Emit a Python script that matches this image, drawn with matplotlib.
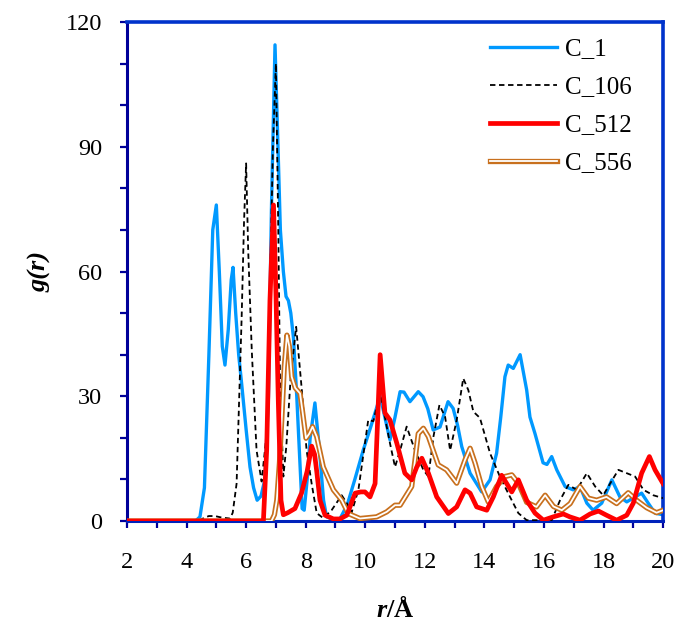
import matplotlib
matplotlib.use("Agg")
import matplotlib.pyplot as plt
from matplotlib.ticker import MultipleLocator
from matplotlib.lines import Line2D

plt.rcParams['font.family'] = ['Liberation Serif', 'DejaVu Serif']
plt.rcParams['mathtext.fontset'] = 'custom'
plt.rcParams['mathtext.rm'] = 'Liberation Serif'
plt.rcParams['mathtext.bfit'] = 'Liberation Serif:italic:bold'

# C_1
r_c1 = [2.0, 4.3, 4.45, 4.6, 4.75, 4.88, 5.0, 5.1, 5.2, 5.29, 5.4, 5.5, 5.56, 5.65, 5.75,
        5.85, 6.0, 6.13, 6.25, 6.37, 6.5, 6.63, 6.75, 6.85, 6.97, 7.05, 7.15, 7.25, 7.34,
        7.42, 7.5, 7.59, 7.7, 7.8, 7.88, 7.95, 8.05, 8.15, 8.31, 8.45, 8.6, 8.7, 8.9, 9.15,
        9.4, 9.65, 9.93, 10.2, 10.5, 10.83, 11.0, 11.17, 11.3, 11.5, 11.78, 11.94, 12.1,
        12.28, 12.51, 12.78, 12.95, 13.1, 13.24, 13.52, 13.91, 14.19, 14.41, 14.55, 14.69,
        14.8, 14.97, 15.2, 15.42, 15.53, 15.7, 15.97, 16.1, 16.26, 16.43, 16.71, 16.98,
        17.21, 17.44, 17.65, 17.94, 18.28, 18.55, 18.78, 19.06, 19.28, 19.5, 19.73, 20.0]
g_c1 = [0, 0, 1, 8, 40, 70, 76, 60, 42, 37.5, 46, 58, 61, 50, 40,
        33, 22, 13, 8, 5, 6, 10, 30, 75, 114.5, 95, 70, 60, 54,
        53, 50, 44, 30, 15, 3, 2.6, 10, 20, 28.4, 18, 5, 1, 0.5, 0.5,
        4, 10, 17, 23, 30, 19.5, 25, 31.1, 31, 28.7, 31.1, 29.9, 27,
        21.9, 22.6, 28.7, 27.1, 23, 17.9, 11.5, 7.0, 9.9, 16.3, 25, 34.7,
        37.5, 36.7, 40, 31.5, 25, 21, 14, 13.6, 15.5, 12.3, 8.3, 7.5,
        8.3, 4.3, 2.6, 4.3, 9.9, 5.8, 4.6, 5.8, 6.7, 4.3, 1.9, 1.5]

# C_106
r_c106 = [2.0, 4.4, 4.6, 4.75, 4.95, 5.2, 5.46, 5.55, 5.68, 5.85, 5.93, 6.0, 6.07, 6.19,
          6.35, 6.52, 6.69, 6.8, 6.9, 7.0, 7.08, 7.14, 7.25, 7.35, 7.5, 7.68, 7.87, 8.03,
          8.2, 8.37, 8.59, 8.87, 9.21, 9.38, 9.54, 9.77, 10.1, 10.27, 10.5, 10.83, 11.0,
          11.17, 11.39, 11.67, 11.95, 12.12, 12.29, 12.49, 12.68, 12.85, 13.07, 13.29,
          13.46, 13.63, 13.85, 14.19, 14.52, 14.86, 15.14, 15.42, 16.26, 16.54, 16.82,
          17.1, 17.44, 17.72, 17.99, 18.22, 18.5, 18.78, 19.06, 19.34, 19.67, 20.0]
g_c106 = [0, 0, 0.8, 1.2, 1.2, 0.8, 0.6, 2, 9, 49, 72, 86, 65, 41,
          17, 9.5, 21, 55, 90, 110, 70, 33, 10.7, 18, 35, 46.7, 31.5, 17,
          9, 1.9, 0.7, 2.6, 6.2, 4.3, 2, 7.5, 24.3, 24, 30.8, 18.7, 13,
          17, 22.7, 17, 12.3, 10.7, 20.3, 27.9, 25.1, 17, 24.3, 34.3,
          31.5, 26.3, 24.8, 16.3, 10.7, 5.8, 1.9, 0.2, 0.2, 5, 8.7,
          7.5, 11.5, 8.3, 6.2, 9, 12.3, 11.5, 10.7, 7.5, 6.2, 5.5]

# C_512
r_c512 = [2.0, 6.58, 6.69, 6.8, 6.92, 7.0, 7.08, 7.17, 7.25, 7.4, 7.64, 7.86, 8.05, 8.2,
          8.3, 8.37, 8.48, 8.65, 8.93, 9.15, 9.38, 9.66, 9.85, 9.99, 10.16, 10.33, 10.42,
          10.5, 10.66, 10.83, 11.06, 11.33, 11.56, 11.73, 11.9, 12.12, 12.4, 12.79, 13.07,
          13.35, 13.52, 13.74, 14.08, 14.3, 14.58, 14.75, 14.92, 15.14, 15.42, 15.7, 15.98,
          16.31, 16.65, 16.87, 17.21, 17.55, 17.83, 18.1, 18.44, 18.78, 19.0, 19.28, 19.54,
          19.73, 20.0]
g_c512 = [0, 0, 17, 53, 76, 55, 29, 5, 1.5, 2, 3, 6.7, 12, 18,
          16, 12, 5, 1.4, 0.5, 0.5, 1.4, 6.7, 7, 7, 5.8, 9, 25,
          40, 26, 24.3, 18.7, 11.5, 9.9, 13, 15.1, 11.5, 5.8, 1.8, 3.4,
          7.5, 6.7, 3.4, 2.6, 5.8, 11, 9, 7, 9.9, 5, 1.9, 0.2,
          1, 1.7, 1, 0.2, 1.7, 2.4, 1.4, 0.2, 1.4, 4.3, 11.5, 15.5,
          12.3, 9]

# C_556
r_c556 = [2.0, 6.85, 6.95, 7.03, 7.12, 7.2, 7.28, 7.37, 7.45, 7.53, 7.65, 7.81, 7.9, 8.01,
          8.12, 8.23, 8.37, 8.59, 8.93, 9.21, 9.43, 9.82, 10.38, 10.72, 11.0, 11.17, 11.56,
          11.78, 11.95, 12.12, 12.45, 12.73, 13.07, 13.35, 13.52, 13.69, 13.91, 14.13, 14.41,
          14.69, 14.92, 15.14, 15.42, 15.75, 16.04, 16.32, 16.6, 16.88, 17.21, 17.49, 17.77,
          18.1, 18.44, 18.83, 19.11, 19.45, 19.78, 20.0]
g_c556 = [0, 0, 1.5, 5, 14, 25, 37, 44.7, 42, 34.7, 32, 30.7, 26, 19.9,
          21, 22.7, 20.3, 13, 7.5, 5, 1.8, 0.6, 1, 2.2, 3.8, 3.8, 8.3,
          21, 22.3, 20.3, 13.5, 12.3, 9.1, 14.7, 17.5, 13.9, 8.3, 4.6, 8.3,
          10.7, 11.1, 9.1, 4.5, 3.4, 6.2, 3.5, 2.6, 4.2, 8.3, 5.5, 5,
          5.8, 4.2, 6.8, 5, 3.2, 2, 2.6]

fig = plt.figure(figsize=(6.78, 6.34), dpi=100)
ax = fig.add_axes([0.1873, 0.1782, 0.7907, 0.7871])

orange = '#c8701e'
ax.plot(r_c1, g_c1, color='#0099ff', lw=2.4, zorder=2)
ax.plot(r_c106, g_c106, color='black', lw=1.3, ls=(0, (3, 2)), zorder=3)
ax.plot(r_c556, g_c556, color=orange, lw=3.8, zorder=4)
ax.plot(r_c556, g_c556, color='white', lw=1.3, zorder=4)
ax.plot(r_c512, g_c512, color='#ff0000', lw=3.4, zorder=5)

h1 = Line2D([], [], color='#0099ff', lw=2.4)
h2 = Line2D([], [], color='black', lw=1.3, ls=(0, (3, 2)))
h3 = Line2D([], [], color='#ff0000', lw=3.4)
h4a = Line2D([], [], color=orange, lw=3.8)
h4b = Line2D([], [], color='white', lw=1.3)
ax.legend([h1, h2, h3, (h4a, h4b)], ['C_1', 'C_106', 'C_512', 'C_556'],
          loc='upper left', bbox_to_anchor=(0.677, 0.968), frameon=False, fontsize=18,
          handlelength=2.7, labelspacing=0.62, handletextpad=0.32,
          borderpad=0, borderaxespad=0)

ax.set_xlim(2, 20)
ax.set_ylim(0, 120)
ax.xaxis.set_major_locator(MultipleLocator(2))
ax.xaxis.set_minor_locator(MultipleLocator(1))
ax.yaxis.set_major_locator(MultipleLocator(30))
ax.yaxis.set_minor_locator(MultipleLocator(10))

tick_col = '#000099'
ax.tick_params(axis='both', which='both', direction='out', color=tick_col,
               width=1.6, top=False, right=False)
ax.tick_params(axis='x', which='both', length=5, pad=17, labelsize=17.5)
ax.tick_params(axis='y', which='both', length=5, pad=13, labelsize=17.5)

ax.spines['left'].set_color('#000099')
ax.spines['bottom'].set_color('#0022bb')
ax.spines['top'].set_color('#0033cc')
ax.spines['right'].set_color('#0033cc')
for s in ['left', 'bottom']:
    ax.spines[s].set_linewidth(2.2)
for s in ['top', 'right']:
    ax.spines[s].set_linewidth(2.6)

ax.set_xlabel(r'$\mathbfit{r}$/Å', fontsize=19, fontweight='bold', labelpad=17)
ax.set_ylabel('g(r)', fontsize=19, fontweight='bold', fontstyle='italic', labelpad=10)

fig.savefig('out.png', dpi=100)
